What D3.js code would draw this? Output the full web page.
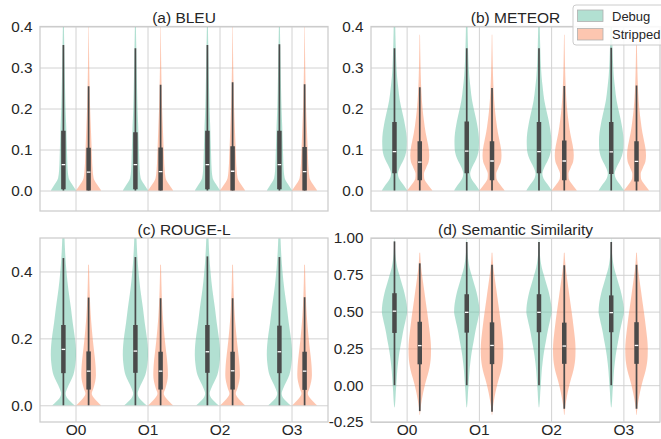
<!DOCTYPE html>
<html>
<head>
<meta charset="utf-8">
<script src="https://cdn.jsdelivr.net/npm/d3@7"></script>
<style>
  body { margin: 0; background: #fff; }
  svg { display: block; }
  text { font-family: "Liberation Sans", Arial, sans-serif; fill: #262626; }
</style>
</head>
<body>
<svg id="chart"></svg>
<script>
// categories / hues
var categories = ["O0", "O1", "O2", "O3"];
var hues = ["Debug", "Stripped"];
var titles = ["(a) BLEU", "(b) METEOR", "(c) ROUGE-L", "(d) Semantic Similarity"];

// y ticks and limits per panel
var bleuTicks = [0, 0.1, 0.2, 0.3, 0.4];
var meteorTicks = [0, 0.1, 0.2, 0.3, 0.4];
var rougeTicks = [0, 0.2, 0.4];
var semTicks = [-0.25, 0, 0.25, 0.5, 0.75, 1.0];
var bleuLimits = [-0.05, 0.4];
var meteorLimits = [-0.05, 0.4];
var rougeLimits = [-0.05, 0.5];
var semLimits = [-0.25, 1.0];

// violin outlines: [value, relative density]
var bleuDebugKde = [[0, 1.0], [0.01, 0.8], [0.02, 0.58], [0.03, 0.42], [0.05, 0.34], [0.08, 0.3], [0.12, 0.26],
  [0.16, 0.22], [0.2, 0.17], [0.25, 0.13], [0.3, 0.1], [0.35, 0.07], [0.4, 0.04], [0.45, 0.02]];
var bleuStrippedKde = [[0, 1.0], [0.01, 0.78], [0.02, 0.55], [0.03, 0.4], [0.05, 0.32], [0.08, 0.27], [0.12, 0.22],
  [0.16, 0.17], [0.2, 0.12], [0.25, 0.08], [0.3, 0.05], [0.35, 0.03], [0.4, 0.015]];
var meteorDebugKde = [[0, 1.0], [0.01, 0.8], [0.02, 0.55], [0.03, 0.35], [0.04, 0.27], [0.055, 0.4], [0.07, 0.65],
  [0.085, 0.85], [0.1, 0.95], [0.12, 0.97], [0.14, 0.93], [0.16, 0.83], [0.18, 0.7], [0.2, 0.55], [0.22, 0.42],
  [0.25, 0.3], [0.28, 0.2], [0.32, 0.13], [0.36, 0.09], [0.4, 0.06], [0.45, 0.03]];
var meteorStrippedKde = [[0, 1.0], [0.01, 0.75], [0.02, 0.5], [0.03, 0.35], [0.04, 0.33], [0.055, 0.5], [0.07, 0.7],
  [0.085, 0.75], [0.1, 0.72], [0.12, 0.6], [0.14, 0.47], [0.17, 0.33], [0.2, 0.22], [0.24, 0.13], [0.28, 0.08],
  [0.32, 0.05], [0.38, 0.02]];
var rougeDebugKde = [[0, 0.88], [0.01, 0.6], [0.02, 0.33], [0.035, 0.18], [0.05, 0.3], [0.07, 0.55], [0.09, 0.78],
  [0.12, 0.94], [0.15, 1.0], [0.18, 0.97], [0.21, 0.88], [0.25, 0.73], [0.29, 0.6], [0.33, 0.45], [0.37, 0.32],
  [0.42, 0.2], [0.47, 0.12], [0.52, 0.07]];
var rougeStrippedKde = [[0, 0.98], [0.01, 0.72], [0.02, 0.46], [0.035, 0.25], [0.05, 0.38], [0.07, 0.52], [0.09, 0.58],
  [0.12, 0.55], [0.15, 0.47], [0.19, 0.35], [0.23, 0.25], [0.27, 0.17], [0.32, 0.1], [0.37, 0.06], [0.42, 0.03]];
var semDebugKde = [[-0.15, 0.02], [-0.1, 0.07], [-0.05, 0.1], [0, 0.14], [0.05, 0.18], [0.1, 0.22], [0.15, 0.28],
  [0.2, 0.35], [0.25, 0.44], [0.3, 0.55], [0.35, 0.65], [0.4, 0.77], [0.45, 0.9], [0.5, 1.0], [0.55, 0.96],
  [0.6, 0.86], [0.65, 0.72], [0.7, 0.55], [0.75, 0.38], [0.8, 0.22], [0.85, 0.12], [0.9, 0.06], [0.95, 0.03], [1.0, 0.01]];
var semStrippedKde = [[-0.2, 0.02], [-0.15, 0.07], [-0.1, 0.16], [-0.05, 0.27], [0, 0.4], [0.05, 0.56], [0.1, 0.72],
  [0.15, 0.83], [0.2, 0.88], [0.25, 0.89], [0.3, 0.86], [0.35, 0.8], [0.4, 0.73], [0.45, 0.66], [0.5, 0.58],
  [0.55, 0.5], [0.6, 0.42], [0.65, 0.34], [0.7, 0.26], [0.75, 0.18], [0.8, 0.11], [0.85, 0.06], [0.9, 0.03]];

// inner boxes per category: [whisker low, q1, median, q3, whisker high]
var bleuDebugBox = [[0, 0.003, 0.063, 0.146, 0.355], [0, 0.003, 0.063, 0.142, 0.347], [0, 0.003, 0.063, 0.146, 0.355], [0, 0.003, 0.063, 0.146, 0.357]];
var bleuStrippedBox = [[0, 0, 0.045, 0.104, 0.254], [0, 0, 0.046, 0.105, 0.258], [0, 0, 0.047, 0.108, 0.264], [0, 0, 0.046, 0.106, 0.259]];
var meteorDebugBox = [[0, 0.042, 0.095, 0.167, 0.347], [0, 0.042, 0.096, 0.168, 0.347], [0, 0.042, 0.095, 0.167, 0.347], [0, 0.04, 0.094, 0.167, 0.348]];
var meteorStrippedBox = [[0, 0.025, 0.069, 0.12, 0.252], [0, 0.025, 0.072, 0.12, 0.25], [0, 0.025, 0.072, 0.122, 0.255], [0, 0.022, 0.071, 0.12, 0.256]];
var rougeDebugBox = [[0, 0.096, 0.167, 0.24, 0.44], [0, 0.097, 0.162, 0.24, 0.443], [0, 0.097, 0.16, 0.24, 0.445], [0, 0.096, 0.16, 0.238, 0.443]];
var rougeStrippedBox = [[0, 0.047, 0.102, 0.161, 0.322], [0, 0.047, 0.102, 0.16, 0.32], [0, 0.047, 0.103, 0.16, 0.32], [0, 0.046, 0.102, 0.16, 0.323]];
var semDebugBox = [[0, 0.355, 0.503, 0.625, 0.977], [0, 0.357, 0.495, 0.618, 0.973], [0, 0.36, 0.495, 0.618, 0.973], [0, 0.36, 0.493, 0.61, 0.973]];
var semStrippedBox = [[-0.176, 0.142, 0.269, 0.431, 0.828], [-0.18, 0.143, 0.27, 0.427, 0.818], [-0.16, 0.145, 0.266, 0.425, 0.815], [-0.16, 0.145, 0.27, 0.428, 0.818]];

var hueColor = d3.scaleOrdinal().domain(hues).range(["#66c2a5", "#fc8d62"]);
var fillOpacity = 0.5;
var boxColor = "#4a4a4a";
var gridColor = "#d2d2d2";

var width = 661, height = 439;
var svg = d3.select("#chart").attr("width", width).attr("height", height);
var defs = svg.append("defs");

var panels = [
  { title: titles[0], ticks: bleuTicks, limits: bleuLimits, fmt: ".1f", kde: [bleuDebugKde, bleuStrippedKde], box: [bleuDebugBox, bleuStrippedBox], rect: [40, 328, 26.5, 211], xlabels: false },
  { title: titles[1], ticks: meteorTicks, limits: meteorLimits, fmt: ".1f", kde: [meteorDebugKde, meteorStrippedKde], box: [meteorDebugBox, meteorStrippedBox], rect: [371, 660, 26.5, 211], xlabels: false },
  { title: titles[2], ticks: rougeTicks, limits: rougeLimits, fmt: ".1f", kde: [rougeDebugKde, rougeStrippedKde], box: [rougeDebugBox, rougeStrippedBox], rect: [40, 328, 238, 422], xlabels: true },
  { title: titles[3], ticks: semTicks, limits: semLimits, fmt: ".2f", kde: [semDebugKde, semStrippedKde], box: [semDebugBox, semStrippedBox], rect: [371, 660, 238, 422], xlabels: true }
];

panels.forEach(function (p, i) {
  var x0 = p.rect[0], x1 = p.rect[1], y0 = p.rect[2], y1 = p.rect[3];
  var x = d3.scaleBand().domain(categories).range([x0, x1]);
  var hx = d3.scaleBand().domain(hues).range([x.bandwidth() * 0.15, x.bandwidth() * 0.85]);
  var y = d3.scaleLinear().domain(p.limits).range([y1, y0]);
  var halfW = hx.bandwidth() / 2;
  var fmt = d3.format(p.fmt);

  var g = svg.append("g");

  // horizontal grid + y labels
  var yAxis = g.append("g")
    .attr("transform", "translate(" + x0 + ",0)")
    .call(d3.axisLeft(y).tickValues(p.ticks).tickSize(-(x1 - x0)).tickPadding(7.5)
      .tickFormat(function (d) { return fmt(d).replace("\u2212", "-"); }));
  yAxis.select(".domain").remove();
  yAxis.selectAll("line").attr("stroke", gridColor).attr("stroke-width", 1);
  yAxis.selectAll("text").attr("font-size", 15.3).attr("fill", "#262626");
  yAxis.attr("font-family", null);

  // vertical grid + x labels
  var xAxis = g.append("g")
    .attr("transform", "translate(0," + y1 + ")")
    .call(d3.axisBottom(x).tickSize(-(y1 - y0)).tickPadding(1.5)
      .tickFormat(p.xlabels ? null : function () { return ""; }));
  xAxis.select(".domain").remove();
  xAxis.selectAll("line").attr("stroke", gridColor).attr("stroke-width", 1);
  xAxis.selectAll("text").attr("font-size", 15.5).attr("fill", "#262626");
  xAxis.attr("font-family", null);

  // clip
  defs.append("clipPath").attr("id", "clip" + i)
    .append("rect").attr("x", x0).attr("y", y0).attr("width", x1 - x0).attr("height", y1 - y0);
  var plot = g.append("g").attr("clip-path", "url(#clip" + i + ")");

  hues.forEach(function (h, hi) {
    var kde = p.kde[hi];
    categories.forEach(function (c, ci) {
      var cx = x(c) + hx(h) + halfW;
      var area = d3.area()
        .curve(d3.curveMonotoneY)
        .y(function (d) { return y(d[0]); })
        .x0(function (d) { return cx - d[1] * halfW; })
        .x1(function (d) { return cx + d[1] * halfW; });
      plot.append("path")
        .attr("d", area(kde))
        .attr("fill", hueColor(h))
        .attr("fill-opacity", fillOpacity)
        .attr("stroke", "none");

      var b = p.box[hi][ci];
      plot.append("line")
        .attr("x1", cx).attr("x2", cx)
        .attr("y1", y(b[0])).attr("y2", y(b[4]))
        .attr("stroke", boxColor).attr("stroke-width", 1.7);
      plot.append("line")
        .attr("x1", cx).attr("x2", cx)
        .attr("y1", y(b[1])).attr("y2", y(b[3]))
        .attr("stroke", boxColor).attr("stroke-width", 4.5);
      plot.append("line")
        .attr("x1", cx - 1.8).attr("x2", cx + 1.8)
        .attr("y1", y(b[2])).attr("y2", y(b[2]))
        .attr("stroke", "#fff").attr("stroke-width", 1.3);
    });
  });

  // frame
  g.append("rect")
    .attr("x", x0).attr("y", y0)
    .attr("width", x1 - x0).attr("height", y1 - y0)
    .attr("fill", "none").attr("stroke", "#cccccc").attr("stroke-width", 1.25);

  g.append("text")
    .attr("x", (x0 + x1) / 2).attr("y", y0 - 3.5)
    .attr("text-anchor", "middle").attr("font-size", 15.5)
    .text(p.title);
});

// legend
var legend = svg.append("g").attr("transform", "translate(573,5)");
legend.append("rect")
  .attr("x", 0).attr("y", 0).attr("width", 100).attr("height", 40).attr("rx", 3)
  .attr("fill", "#fff").attr("fill-opacity", 0.85)
  .attr("stroke", "#cccccc").attr("stroke-width", 1);
hues.forEach(function (h, i) {
  var row = legend.append("g").attr("transform", "translate(0," + (i * 18.5) + ")");
  row.append("rect")
    .attr("x", 4.5).attr("y", 5).attr("width", 25.5).attr("height", 11.5)
    .attr("fill", hueColor(h)).attr("fill-opacity", fillOpacity)
    .attr("stroke", "#b0b0b0").attr("stroke-width", 0.8);
  row.append("text")
    .attr("x", 39).attr("y", 11).attr("dy", "0.35em")
    .attr("font-size", 13)
    .text(h);
});
</script>
</body>
</html>
